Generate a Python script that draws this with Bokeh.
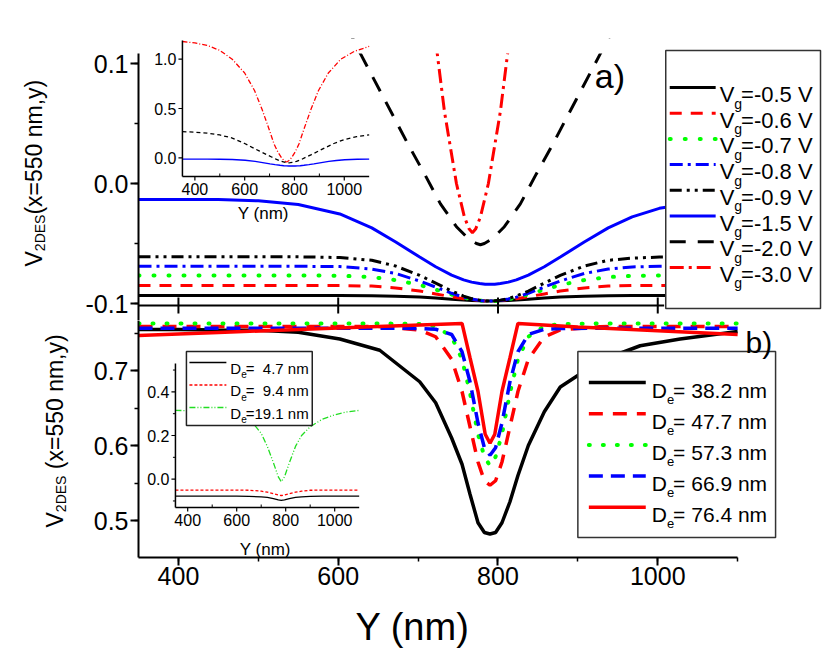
import math
from bokeh.plotting import figure
from bokeh.models import Range1d, SingleIntervalTicker, PrintfTickFormatter
from bokeh.layouts import column, row
from bokeh.embed import file_html
from bokeh.resources import INLINE
from bokeh.core.properties import value

FONT = "Liberation Sans"

# ---------------- data ----------------
# panel a) : V_2DES(x=550 nm, y) for several gate voltages
y_top = [350, 400, 450, 500, 550, 602, 642, 672, 702, 722, 742, 757, 767, 777, 784,
         790, 796, 803, 813, 823, 838, 858, 878, 908, 938, 968, 1002, 1052, 1100]
vg_05 = [-0.0933, -0.0933, -0.0933, -0.0933, -0.0933, -0.0933, -0.0935, -0.094, -0.0945, -0.0955, -0.0965,
         -0.097, -0.0975, -0.0978, -0.098, -0.098, -0.098, -0.0978, -0.0975, -0.097, -0.0965, -0.0955,
         -0.0945, -0.094, -0.0935, -0.0933, -0.0933, -0.0933, -0.0933]
vg_06 = [-0.085, -0.085, -0.085, -0.085, -0.085, -0.085, -0.0855, -0.087, -0.0896, -0.092, -0.0944,
         -0.096, -0.0968, -0.0975, -0.098, -0.098, -0.098, -0.0975, -0.0968, -0.096, -0.0944, -0.092,
         -0.0896, -0.087, -0.0855, -0.085, -0.085, -0.085, -0.085]
vg_07 = [-0.0767, -0.0767, -0.0767, -0.0767, -0.0767, -0.0768, -0.078, -0.0805, -0.0846, -0.0884, -0.0925,
         -0.0951, -0.0965, -0.0975, -0.098, -0.098, -0.098, -0.0975, -0.0965, -0.0951, -0.0925, -0.0884,
         -0.0846, -0.0805, -0.078, -0.0769, -0.0767, -0.0767, -0.0767]
vg_08 = [-0.069, -0.069, -0.069, -0.069, -0.069, -0.0692, -0.0713, -0.075, -0.0813, -0.0863, -0.0915,
         -0.0947, -0.0963, -0.0975, -0.098, -0.098, -0.098, -0.0975, -0.0963, -0.0947, -0.0915, -0.0863,
         -0.0813, -0.075, -0.0713, -0.0695, -0.069, -0.069, -0.069]
vg_09 = [-0.061, -0.061, -0.061, -0.061, -0.0611, -0.0617, -0.064, -0.0688, -0.0766, -0.083, -0.0896,
         -0.0938, -0.0959, -0.0973, -0.0978, -0.098, -0.0978, -0.0973, -0.0959, -0.0938, -0.0896, -0.083,
         -0.0766, -0.0688, -0.064, -0.0622, -0.0613, -0.061, -0.061]
vg_15 = [-0.0133, -0.0133, -0.0134, -0.0144, -0.0175, -0.0254, -0.037, -0.0487, -0.0613, -0.0694, -0.0763,
         -0.0803, -0.0822, -0.0834, -0.0839, -0.084, -0.0839, -0.0834, -0.0822, -0.0803, -0.0763, -0.0694,
         -0.0613, -0.0487, -0.037, -0.0278, -0.0207, -0.0156, -0.0138]
y_v20 = [350, 400, 450, 500, 550, 600, 628, 658, 688, 708, 728, 748, 763, 773, 778,
         783, 793, 808, 828, 848, 868, 898, 928, 958, 1000, 1050, 1100]
vg_20 = [0.265, 0.26, 0.25, 0.232, 0.20, 0.145, 0.108, 0.07, 0.032, 0.008, -0.017, -0.036, -0.046, -0.050,
         -0.051, -0.050, -0.046, -0.036, -0.017, 0.008, 0.032, 0.07, 0.108, 0.145, 0.185, 0.215, 0.232]
y_v30 = [350, 400, 450, 500, 550, 600, 640, 670, 698, 718, 733, 748, 758, 764, 768,
         772, 778, 788, 803, 818, 838, 866, 896, 936, 986, 1040, 1100]
vg_30 = [1.18, 1.165, 1.14, 1.09, 1.0, 0.86, 0.68, 0.49, 0.29, 0.14, 0.06, 0.0, -0.028, -0.038,
         -0.041, -0.038, -0.028, 0.0, 0.06, 0.14, 0.29, 0.49, 0.68, 0.86, 1.0, 1.08, 1.13]
vg_labels = ["=-0.5 V", "=-0.6 V", "=-0.7 V", "=-0.8 V", "=-0.9 V", "=-1.5 V", "=-2.0 V", "=-3.0 V"]
top_xticks = [400, 600, 800, 1000]

# panel b) : V_2DES(x=550 nm, y) for several electron-layer depths D_e
y_bot = [350, 400, 450, 500, 550, 602, 652, 702, 722, 742, 755, 765, 775, 783, 790,
         797, 805, 815, 825, 838, 858, 878, 928, 978, 1028, 1100]
de_382 = [0.7547, 0.7547, 0.754, 0.7535, 0.751, 0.742, 0.727, 0.685, 0.657, 0.61, 0.575, 0.535, 0.497,
          0.484, 0.482, 0.484, 0.497, 0.525, 0.56, 0.60, 0.645, 0.678, 0.713, 0.733, 0.742, 0.752]
de_477 = [0.7587, 0.7587, 0.7587, 0.7587, 0.7587, 0.7587, 0.7585, 0.754, 0.745, 0.715, 0.672, 0.625, 0.578,
          0.553, 0.547, 0.553, 0.578, 0.625, 0.672, 0.715, 0.745, 0.754, 0.7585, 0.7587, 0.7587, 0.7587]
de_573 = [0.7627, 0.7627, 0.7627, 0.7627, 0.7627, 0.7627, 0.7627, 0.762, 0.759, 0.745, 0.715, 0.67, 0.615,
          0.585, 0.573, 0.585, 0.615, 0.67, 0.715, 0.745, 0.759, 0.762, 0.7627, 0.7627, 0.7627, 0.7627]
de_669 = [0.7564, 0.7564, 0.7564, 0.7564, 0.7564, 0.7564, 0.7564, 0.756, 0.755, 0.748, 0.725, 0.685, 0.63,
          0.597, 0.587, 0.597, 0.63, 0.685, 0.725, 0.748, 0.755, 0.756, 0.7564, 0.7564, 0.7564, 0.7564]
y_red = [350, 450, 550, 650, 755, 765, 775, 784, 790, 796, 805, 815, 825, 900, 1000, 1100]
de_764 = [0.7467, 0.7507, 0.7547, 0.7587, 0.7627, 0.717, 0.672, 0.615, 0.603, 0.615, 0.672, 0.717, 0.7627,
          0.758, 0.753, 0.748]
de_labels = ["= 38.2 nm", "= 47.7 nm", "= 57.3 nm", "= 66.9 nm", "= 76.4 nm"]

# inset of panel b): thin layers
y_ins = [350, 450, 550, 600, 650, 700, 725, 750, 770, 782, 795, 815, 840, 865, 900, 950, 1000, 1050, 1100]
de_47 = [-0.078, -0.078, -0.078, -0.0782, -0.079, -0.081, -0.084, -0.089, -0.095, -0.097, -0.095, -0.089,
         -0.084, -0.081, -0.079, -0.0782, -0.078, -0.078, -0.078]
de_94 = [-0.050, -0.050, -0.050, -0.0502, -0.051, -0.055, -0.060, -0.067, -0.073, -0.075, -0.073, -0.067,
         -0.060, -0.055, -0.051, -0.0502, -0.050, -0.050, -0.050]
de_191 = [0.315, 0.313, 0.307, 0.298, 0.28, 0.21, 0.15, 0.075, 0.01, -0.012, 0.01, 0.075,
          0.15, 0.20, 0.24, 0.275, 0.295, 0.308, 0.315]
ins_labels = ["= \u00a04.7 nm", "= \u00a09.4 nm", "=19.1 nm"]

# inset ticks
ins_xticks = [400, 600, 800, 1000]
ins_xminor = [500, 700, 900]
top_ins_yticks = [0.0, 0.5, 1.0]
bot_ins_yticks = [0.0, 0.2, 0.4]
bot_ins_yminor = [-0.1, 0.1, 0.3, 0.5]

# ---------------- styles / layout (page pixels) ----------------
RED, GREEN, BLUE, BLACK = "#ff0000", "#00ff00", "#0000ff", "#000000"
TW = 82                    # strip holding the rotated y titles
W = 830 - TW
FL, FR = 137, 828          # frame left/right
T_TOP, T_BOT = 38, 320     # top figure frame
B_TOP, B_BOT = 320, 557    # bottom figure frame
B_END = 596                # bottom of the panel b) figure (tick labels included)
H1 = T_BOT
H2 = B_END - H1
H3 = 667 - B_END
PX_PER_NM = 0.8
x_end = 350 + (FR - FL) / PX_PER_NM

k1 = 0.2 / (303 - 63)            # 0.1 at y=63, -0.1 at y=303
t_lo = -0.1 - (T_BOT - 303) * k1
t_hi = 0.1 + (63 - T_TOP) * k1
t_axis_top = 0.1 + (63 - 53) * k1
k2 = 0.2 / (520 - 370)           # 0.7 at y=370, 0.5 at y=520
b_lo = 0.5 - (B_BOT - 520) * k2
b_hi = 0.7 + (370 - B_TOP) * k2

ADV = {' ': 278, '\u00a0': 278, '(': 333, ')': 333, ',': 278, '-': 333, '.': 278, '=': 584, 'D': 722,
       'E': 667, 'S': 667, 'V': 667, 'Y': 667, 'e': 556, 'g': 556, 'm': 833, 'n': 556, 'x': 500, 'y': 500}


def tw(s, size):
    return sum(ADV.get(c, 556) for c in s) * size / 1000.0


def style_axes(p):
    for ax in p.axis:
        ax.axis_line_width = 2
        ax.major_tick_line_width = 2
        ax.minor_tick_line_width = 1.5
        ax.major_tick_in = 0
        ax.major_tick_out = 8
        ax.minor_tick_in = 0
        ax.minor_tick_out = 4
        ax.major_label_text_font = FONT
        ax.major_label_text_font_size = "25px"
        ax.major_label_text_color = "black"
        ax.major_label_standoff = 2


def make_fig(height, y_lo, y_hi, top_b, bot_b, ftop, fbot):
    p = figure(width=W, height=height, x_range=Range1d(350, x_end), y_range=Range1d(y_lo, y_hi),
               output_backend="svg", toolbar_location=None, title=None,
               min_border_left=FL - TW, min_border_right=W - (FR - TW),
               min_border_top=top_b, min_border_bottom=bot_b)
    p.outline_line_color = None
    p.grid.visible = False
    p.extra_x_ranges["px"] = Range1d(FL, FR)
    p.extra_y_ranges["px"] = Range1d(fbot, ftop)
    style_axes(p)
    return p


def strip_fig(width, height, page_left, page_top):
    t = figure(width=width, height=height, x_range=Range1d(page_left, page_left + width),
               y_range=Range1d(page_top + height, page_top),
               output_backend="svg", toolbar_location=None, title=None, min_border=0)
    t.axis.visible = False
    t.grid.visible = False
    t.outline_line_color = None
    return t


def txt(p, x, y, text, size, align="left", baseline="alphabetic", angle=0.0, rng="px"):
    kw = dict(x_range_name=rng, y_range_name=rng) if rng else {}
    p.text(x=[x], y=[y], text=[text], text_font=value(FONT), text_font_size=value(f"{size}px"),
           text_align=align, text_baseline=baseline, angle=angle, text_color="black", **kw)


def sub_text(p, x, y, main, sub, rest, size, sub_size, sub_drop):
    txt(p, x, y, main, size)
    x2 = x + tw(main, size)
    txt(p, x2, y + sub_drop, sub, sub_size)
    txt(p, x2 + tw(sub, sub_size) - 1, y, rest, size)


def vtitle(t, x, y, rest, gap, size, sub_size):
    # rotated axis title: V_2DES + rest, reading upward
    a = math.pi / 2
    txt(t, x, y, "V", size, angle=a, rng=None)
    y2 = y - tw("V", size)
    txt(t, x + 6, y2, "2DES", sub_size, angle=a, rng=None)
    y3 = y2 - tw("2DES", sub_size) - gap
    txt(t, x, y3, rest, size, angle=a, rng=None)


def inset_ranges(p, name, box, drange):
    bx0, bx1, by0, by1 = box
    dx0, dx1, dy0, dy1 = drange
    sx = (dx1 - dx0) / (bx1 - bx0)
    sy = (dy1 - dy0) / (by1 - by0)
    fb = p.extra_y_ranges["px"].start
    ft = p.extra_y_ranges["px"].end
    p.extra_x_ranges[name] = Range1d(dx0 - (bx0 - FL) * sx, dx1 + (FR - bx1) * sx)
    p.extra_y_ranges[name] = Range1d(dy0 - (fb - by1) * sy, dy1 + (by0 - ft) * sy)
    return sx, sy


def inset_axes(p, name, drange, sx, sy, yt, ymin, ylab_fmt):
    dx0, dx1, dy0, dy1 = drange
    kw = dict(x_range_name=name, y_range_name=name, line_color="black")
    p.segment(x0=[dx0, dx0], y0=[dy0, dy0], x1=[dx0, dx1], y1=[dy1, dy0], line_width=1.5, **kw)
    n = len(ins_xticks)
    p.segment(x0=ins_xticks, y0=[dy0] * n, x1=ins_xticks, y1=[dy0 - 4 * sy] * n, line_width=1.2, **kw)
    m = len(ins_xminor)
    p.segment(x0=ins_xminor, y0=[dy0] * m, x1=ins_xminor, y1=[dy0 + 3 * sy] * m, line_width=1, **kw)
    n2 = len(yt)
    p.segment(x0=[dx0] * n2, y0=yt, x1=[dx0 - 4 * sx] * n2, y1=yt, line_width=1.2, **kw)
    if ymin:
        m2 = len(ymin)
        p.segment(x0=[dx0] * m2, y0=ymin, x1=[dx0 - 2.5 * sx] * m2, y1=ymin, line_width=1, **kw)
    tkw = dict(x_range_name=name, y_range_name=name, text_font=value(FONT), text_font_size=value("16px"),
               text_color="black")
    p.text(x=ins_xticks, y=[dy0] * n, text=[str(v) for v in ins_xticks], text_align="center",
           text_baseline="top", y_offset=6, **tkw)
    p.text(x=[dx0] * n2, y=yt, text=[ylab_fmt % v for v in yt], text_align="right",
           text_baseline="middle", x_offset=-6, **tkw)


# ================= top panel a) =================
p1 = make_fig(H1, t_lo, t_hi, T_TOP, 0, T_TOP, T_BOT)
p1.xaxis.visible = False
p1.yaxis.ticker = SingleIntervalTicker(interval=0.1, num_minor_ticks=2)
p1.yaxis.formatter = PrintfTickFormatter(format="%.1f")
p1.yaxis.bounds = (t_lo, t_axis_top)

top_series = [(y_top, vg_05), (y_top, vg_06), (y_top, vg_07), (y_top, vg_08), (y_top, vg_09),
              (y_top, vg_15), (y_v20, vg_20), (y_v30, vg_30)]
top_styles = [
    dict(line_color=BLACK, line_dash="solid", line_width=3),
    dict(line_color=RED, line_dash="12 9", line_width=3),
    dict(line_color=GREEN, line_dash="1 14", line_width=4, line_cap="round"),
    dict(line_color=BLUE, line_dash="13 5 3 5", line_width=3),
    dict(line_color=BLACK, line_dash="12 5 3 5 3 5", line_width=3),
    dict(line_color=BLUE, line_dash="solid", line_width=3),
    dict(line_color=BLACK, line_dash="16 12", line_width=3),
    dict(line_color=RED, line_dash="14 5 3 5", line_width=3),
]
for (xs, ys), st in zip(top_series, top_styles):
    p1.line(xs, ys, **st)

# curves of panel a) end at the top of the panel
p1.quad(left=FL + 2, right=FR, top=T_TOP, bottom=53, x_range_name="px", y_range_name="px",
        fill_color="white", line_color=None)

# bottom axis of panel a): line with ticks crossing it, no labels
p1.segment(x0=[350], y0=[305], x1=[1008], y1=[305], y_range_name="px", line_color="black", line_width=2)
p1.segment(x0=top_xticks, y0=[297] * 4, x1=top_xticks, y1=[313] * 4, y_range_name="px",
           line_color="black", line_width=2)

# inset of panel a)
TI_BOX = (181, 368, 40, 176)
TI_D = (350, 1100, -0.19, 1.19)
sx1, sy1 = inset_ranges(p1, "ins", TI_BOX, TI_D)
p1.line(y_v30, vg_30, x_range_name="ins", y_range_name="ins", line_color=RED, line_dash="5 2 1 2", line_width=1.3)
p1.line(y_v20, vg_20, x_range_name="ins", y_range_name="ins", line_color=BLACK, line_dash="4 3", line_width=1.3)
p1.line(y_top, vg_15, x_range_name="ins", y_range_name="ins", line_color=BLUE, line_width=1.4)
inset_axes(p1, "ins", TI_D, sx1, sy1, top_ins_yticks, None, "%.1f")
txt(p1, 262, 213, "Y (nm)", 17, align="center")

# legend of panel a)
p1.quad(left=665, right=820, top=50, bottom=308, x_range_name="px", y_range_name="px",
        fill_color="white", line_color="#333333", line_width=1.5)
for i, (st, lbl) in enumerate(zip(top_styles, vg_labels)):
    yy = 87 + i * 25.7
    p1.line([669, 715], [yy, yy], x_range_name="px", y_range_name="px", **st)
    sub_text(p1, 719, yy + 7, "V", "g", lbl, 22, 14, 9)

txt(p1, 594, 75, "a)", 34)

# ================= bottom panel b) =================
p2 = make_fig(H2, b_lo, b_hi, 0, H2 - (B_BOT - B_TOP), B_TOP, B_BOT)
p2.xaxis.ticker = SingleIntervalTicker(interval=200, num_minor_ticks=2)
p2.xaxis.bounds = (350, 1100)
p2.xaxis.major_label_standoff = 1
p2.yaxis.ticker = SingleIntervalTicker(interval=0.1, num_minor_ticks=2)
p2.yaxis.formatter = PrintfTickFormatter(format="%.1f")

bot_series = [(y_bot, de_382), (y_bot, de_477), (y_bot, de_573), (y_bot, de_669), (y_red, de_764)]
bot_styles = [
    dict(line_color=BLACK, line_dash="solid", line_width=3.5),
    dict(line_color=RED, line_dash="14 10", line_width=3.5),
    dict(line_color=GREEN, line_dash="1 13", line_width=4, line_cap="round"),
    dict(line_color=BLUE, line_dash="14 8", line_width=3.5),
    dict(line_color=RED, line_dash="solid", line_width=3.5),
]
for (xs, ys), st in zip(bot_series, bot_styles):
    p2.line(xs, ys, **st)

# inset of panel b)
BI_BOX = (174, 358, 363, 507)
BI_D = (350, 1100, -0.13, 0.53)
sx2, sy2 = inset_ranges(p2, "ins", BI_BOX, BI_D)
ins_styles = [
    dict(line_color=BLACK, line_dash="solid", line_width=1.3),
    dict(line_color=RED, line_dash="3 2", line_width=1.3),
    dict(line_color="#22dd22", line_dash="6 2 1 2 1 2", line_width=1.3),
]
for ys, st in zip([de_47, de_94, de_191], ins_styles):
    p2.line(y_ins, ys, x_range_name="ins", y_range_name="ins", **st)
inset_axes(p2, "ins", BI_D, sx2, sy2, bot_ins_yticks, bot_ins_yminor, "%.1f")
txt(p2, 264, 549, "Y (nm)", 17, align="center")

p2.quad(left=185, right=311, top=351, bottom=425, x_range_name="px", y_range_name="px",
        fill_color="white", line_color="#222222", line_width=1.5)
for i, (st, lbl) in enumerate(zip(ins_styles, ins_labels)):
    yy = 362 + i * 22.5
    p2.line([188, 225], [yy, yy], x_range_name="px", y_range_name="px", **st)
    sub_text(p2, 229, yy + 5.5, "D", "e", lbl, 15, 10, 6)

# legend of panel b)
p2.quad(left=577, right=775, top=351, bottom=537, x_range_name="px", y_range_name="px",
        fill_color="white", line_color="#333333", line_width=1.5)
for i, (st, lbl) in enumerate(zip(bot_styles, de_labels)):
    yy = 382 + i * 31.2
    p2.line([588, 645], [yy, yy], x_range_name="px", y_range_name="px", **st)
    sub_text(p2, 651, yy + 7.5, "D", "e", lbl, 21, 13, 9)

txt(p2, 745, 342, "b)", 30)

# left strip with both rotated y titles (spans both panels)
ts = strip_fig(TW, B_END, 0, 0)
vtitle(ts, 33, 266, "(x=550 nm,y)", 0, 23, 14)
vtitle(ts, 54, 527, "(x=550 nm,y)", tw(" ", 23), 23, 14)

# x-axis title strip (full page width)
t3 = strip_fig(830, H3, 0, B_END)
txt(t3, 412, 626, "Y (nm)", 38, align="center", rng=None)

layout = column(row(ts, column(p1, p2, spacing=0), spacing=0), t3, spacing=0)
open("out.html", "w").write(file_html(layout, INLINE))
